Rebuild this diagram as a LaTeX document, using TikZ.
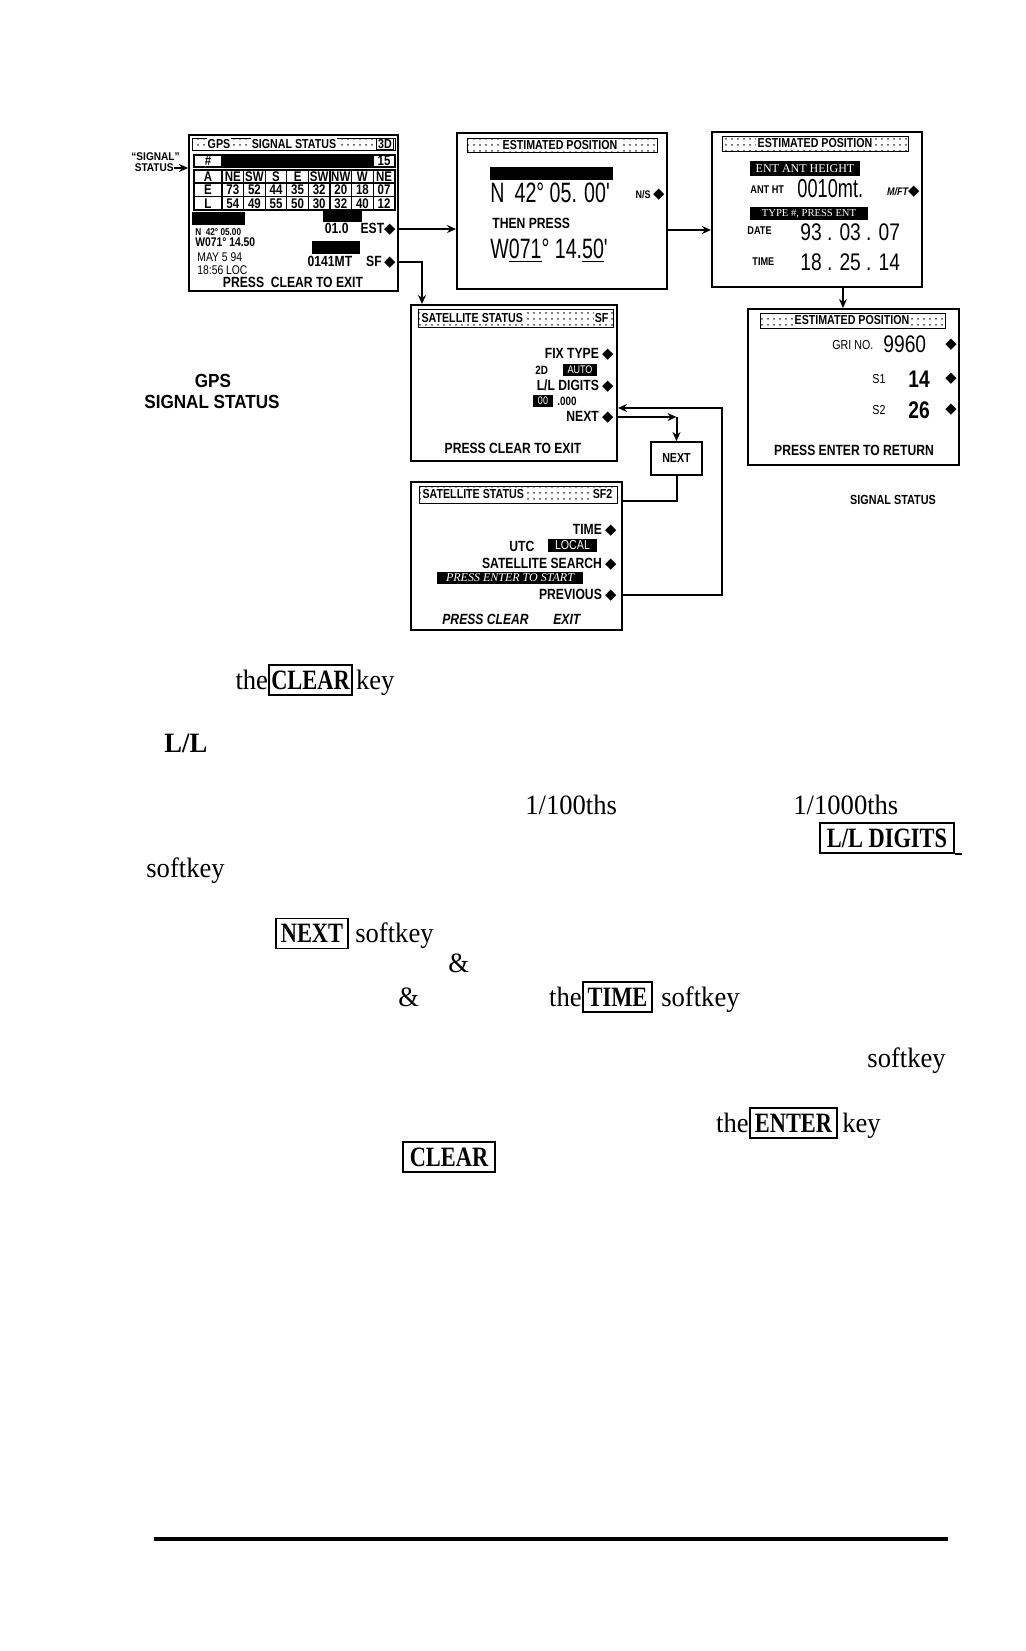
\documentclass[tikz,border=0pt]{standalone}
\usepackage{fontspec}
\setmainfont{Liberation Serif}
\newfontfamily\bodyf[FakeStretch=0.95]{Liberation Serif}
\newfontfamily\keyf[FakeStretch=0.8]{Liberation Serif}
\newfontfamily\scrf[FakeStretch=0.82]{Liberation Sans}
\newfontfamily\lcdf[FakeStretch=0.7]{Liberation Sans}
\newfontfamily\digf[FakeStretch=0.8]{Liberation Sans}
\newfontfamily\lblf[FakeStretch=0.9]{Liberation Sans}
\newfontfamily\symf{DejaVu Sans}
\usetikzlibrary{arrows.meta,positioning,calc,fit,patterns}
\newcommand\dia{{\symf ◆}}
\tikzset{lcd/.style={draw,line width=1pt,inner sep=0pt},tbar/.style={draw,line width=.5pt,pattern=dots,pattern color=black!75},ttl/.style={fill=white,inner sep=.6pt,font=\scrf\bfseries\fontsize{6.5}{7}\selectfont},st/.style={inner sep=0pt,font=\scrf\bfseries\fontsize{7.4}{8}\selectfont},sm/.style={inner sep=0pt,font=\scrf\bfseries\fontsize{5.6}{6}\selectfont},tag/.style={inner sep=0pt,font=\scrf\bfseries\fontsize{6.6}{7}\selectfont},rg/.style={inner sep=0pt,font=\scrf\fontsize{6.3}{7}\selectfont},cell/.style={inner sep=0pt,font=\scrf\bfseries\fontsize{7}{8}\selectfont},big/.style={inner sep=0pt,font=\lcdf\fontsize{14}{16}\selectfont},dig/.style={inner sep=0pt,font=\digf\fontsize{12}{14}\selectfont},inv/.style={fill=black,text=white,inner sep=0pt,font=\rmfamily\fontsize{6}{7}\selectfont},lbl/.style={inner sep=0pt,font=\lblf\bfseries\fontsize{9.5}{11}\selectfont},conn/.style={line width=1pt},tip/.style={-{Stealth[length=4.5pt,width=4pt]}},body/.style={inner sep=0pt,font=\bodyf\fontsize{14}{16}\selectfont},keybox/.style={draw,line width=.9pt,inner xsep=1pt,inner ysep=0pt,minimum height=15pt,font=\keyf\bfseries\fontsize{14}{16}\selectfont}}
\begin{document}
\begin{tikzpicture}[x=0.5pt,y=-0.5pt]
\useasboundingbox (0,0) rectangle (1025,1651);
% GPS signal status screen
\node[lcd,fit={(189,135) (398,291)}] (gps) {};
\draw[tbar] (192,138) rectangle (395,150);
\node[ttl] (gpsA) at (219,144) {GPS};
\node[ttl] (gpsB) at (294,144) {SIGNAL STATUS};
\node[ttl,draw,line width=.5pt] (gpsC) at (385,144) {3D};
\draw[line width=.6pt] (194,155) rectangle (395,167) (222,155) -- (222,167) (373,155) -- (373,167);
\fill (222,155) rectangle (373,167);
\node[cell] (hsh) at (208,161) {\#};
\node[cell] (nsat) at (384,161) {15};
\draw[line width=.6pt] (194,170) rectangle (395,210) (194,183) -- (395,183) (194,196.5) -- (395,196.5);
\foreach \nn in {0,...,7} \draw[line width=.6pt] (222+21.6*\nn,170) -- (222+21.6*\nn,210);
\foreach \rw/\yy in {A/176.5,E/189.8,L/203.3} \node[cell] (row\rw) at (208,\yy) {\rw};
\foreach \dd [count=\nn] in {NE,SW,S,E,SW,NW,W,NE} \node[cell] (az\nn) at (211.2+21.6*\nn,176.5) {\dd};
\foreach \dd [count=\nn] in {73,52,44,35,32,20,18,07} \node[cell] (el\nn) at (211.2+21.6*\nn,189.8) {\dd};
\foreach \dd [count=\nn] in {54,49,55,50,30,32,40,12} \node[cell] (lv\nn) at (211.2+21.6*\nn,203.3) {\dd};
\fill (192,212) rectangle (245,225);
\fill (323,210) rectangle (362,222);
\fill (312,241) rectangle (360,254);
\node[sm,anchor=west,font=\scrf\bfseries\fontsize{5}{6}\selectfont] (gpslat) at (195,232) {N\ \ 42° 05.00};
\node[st,anchor=west,font=\scrf\bfseries\fontsize{6.3}{7}\selectfont] (gpslon) at (195,242) {W071° 14.50};
\node[st,anchor=east] (gpsest) at (396,229) {01.0\hspace{6pt}EST\dia};
\node[rg,anchor=west] (gpsdate) at (197,257) {MAY 5 94};
\node[rg,anchor=west] (gpstime) at (197,270) {18:56 LOC};
\node[st,anchor=east] (gpssf) at (396,262) {0141MT\hspace{7pt}SF\,\dia};
\node[st] (gpsexit) at (293,282) {PRESS\ \ CLEAR TO EXIT};
\node[sm,anchor=east,font=\lblf\bfseries\fontsize{5.6}{6}\selectfont] (sigA) at (180,157) {“SIGNAL”};
\node[sm,anchor=east,font=\lblf\bfseries\fontsize{5.6}{6}\selectfont] (sigB) at (174,168) {STATUS};
\node[lbl] (capA) at (213,381) {GPS};
\node[lbl] (capB) at (212,402) {SIGNAL STATUS};
% estimated position, latitude / longitude
\node[lcd,fit={(457,133) (667,289)}] (estA) {};
\draw[tbar] (467,138) rectangle (657,152);
\node[ttl] (estAT) at (560,145) {ESTIMATED POSITION};
\fill (490,167) rectangle (613,180);
\node[big,anchor=west] (estAlat) at (490,193) {N\, 42° 05. 00'};
\node[st,anchor=east] (estAns) at (665,195) {{\fontsize{5.5}{6}\selectfont N/S}\,\dia};
\node[st,anchor=west] (estAthen) at (492,223) {THEN PRESS};
\node[big,anchor=west] (estAlon) at (490,251) {W\underline{071}° 14.\underline{50}'};
% estimated position, antenna height / date / time
\node[lcd,fit={(712,132) (922,287)}] (estB) {};
\draw[tbar] (722,136) rectangle (908,151);
\node[ttl] (estBT) at (815,143.5) {ESTIMATED POSITION};
\node[inv,minimum width=55pt,minimum height=7.5pt] (estBhd) at (805,168.5) {ENT ANT HEIGHT};
\node[sm,anchor=west] (estBant) at (750,190) {ANT HT};
\node[big,anchor=west,font=\lcdf\fontsize{13}{15}\selectfont] (estBht) at (797,189) {0010mt.};
\node[st,anchor=east] (estBmft) at (920,192) {{\fontsize{5.5}{6}\selectfont\itshape M/FT}\dia};
\node[inv,minimum width=59pt,minimum height=6.5pt,font=\rmfamily\fontsize{5.3}{6}\selectfont] (estBty) at (809,213.5) {TYPE \#, PRESS ENT};
\node[sm,anchor=west] (estBdl) at (747,231) {DATE};
\node[dig,anchor=west] (estBdate) at (800,232) {93 . 03 . 07};
\node[sm,anchor=west] (estBtl) at (752,262) {TIME};
\node[dig,anchor=west] (estBtime) at (800,262) {18 . 25 . 14};
% estimated position, GRI
\node[lcd,fit={(748,309) (959,465)}] (estC) {};
\draw[tbar] (760,313) rectangle (945,328);
\node[ttl] (estCT) at (852,320.5) {ESTIMATED POSITION};
\node[rg,anchor=west,font=\scrf\fontsize{6.5}{7}\selectfont] (estCgl) at (832,345) {GRI NO.};
\node[dig,anchor=west] (estCgri) at (883,344) {9960};
\node[rg,anchor=west,font=\scrf\fontsize{6.5}{7}\selectfont] (estCs1l) at (872,379) {S1};
\node[dig,anchor=west,font=\digf\bfseries\fontsize{12}{14}\selectfont] (estCs1) at (908,379) {14};
\node[rg,anchor=west,font=\scrf\fontsize{6.5}{7}\selectfont] (estCs2l) at (872,410) {S2};
\node[dig,anchor=west,font=\digf\bfseries\fontsize{12}{14}\selectfont] (estCs2) at (908,410) {26};
\foreach \yy [count=\nn] in {345,379,410} \node[st] (estCd\nn) at (951,\yy) {\dia};
\node[st] (estCexit) at (854,450) {PRESS ENTER TO RETURN};
\node[tag] (estCcap) at (893,500) {SIGNAL STATUS};
% satellite status SF
\node[lcd,fit={(411,305) (617,461)}] (satA) {};
\draw[tbar] (418,309) rectangle (613,327);
\node[ttl,anchor=west] (satAT) at (420,318) {SATELLITE\ STATUS};
\node[ttl,anchor=east] (satAsf) at (610,318) {SF};
\node[st,anchor=east] (satAfix) at (614,354) {FIX TYPE\ \dia};
\node[st,anchor=west] (satA2d) at (535,370) {{\fontsize{6}{7}\selectfont 2D}};
\node[inv,minimum width=17pt,minimum height=6pt,font=\scrf\fontsize{5.5}{6}\selectfont] (satAauto) at (580,370) {AUTO};
\node[st,anchor=east] (satAll) at (614,386) {L/L DIGITS\ \dia};
\node[inv,minimum width=10pt,minimum height=6pt,font=\scrf\fontsize{5.5}{6}\selectfont] (satAdd) at (543,401) {00};
\node[st,anchor=west] (satAdec) at (557,401) {{\fontsize{6}{7}\selectfont .000}};
\node[st,anchor=east] (satAnext) at (614,417) {NEXT\ \dia};
\node[st] (satAexit) at (513,448) {PRESS CLEAR TO EXIT};
% NEXT softkey
\node[draw,line width=1pt,minimum width=25.5pt,minimum height=16.5pt,st,font=\scrf\bfseries\fontsize{6.5}{7}\selectfont] (nextkey) at (676.5,458.5) {NEXT};
% satellite status SF2
\node[lcd,fit={(411,482) (622,630)}] (satB) {};
\draw[tbar] (419,486) rectangle (617,503);
\node[ttl,anchor=west] (satBT) at (421,494.5) {SATELLITE\ STATUS};
\node[ttl,anchor=east] (satBsf) at (614,494.5) {SF2};
\node[st,anchor=east] (satBtime) at (617,530) {TIME\ \dia};
\node[st,anchor=west] (satButc) at (509,546) {UTC};
\node[inv,minimum width=24.5pt,minimum height=6.5pt,font=\scrf\fontsize{6.5}{7}\selectfont] (satBloc) at (572.5,545.5) {LOCAL};
\node[st,anchor=east] (satBsrch) at (617,564) {SATELLITE SEARCH\ \dia};
\node[inv,minimum width=73pt,minimum height=6pt,font=\rmfamily\itshape\fontsize{6}{7}\selectfont] (satBstart) at (510,578) {PRESS ENTER TO START};
\node[st,anchor=east] (satBprev) at (617,595) {PREVIOUS\ \dia};
\node[st,anchor=west,font=\scrf\bfseries\itshape\fontsize{7.4}{8}\selectfont] (satBpc) at (442,619) {PRESS CLEAR};
\node[st,anchor=west,font=\scrf\bfseries\itshape\fontsize{7.4}{8}\selectfont] (satBex) at (553,619) {EXIT};
% connectors
\coordinate (ab) at (690,230);
\coordinate (bc) at (843,298);
\coordinate (ret) at (722,408);
\draw[conn,tip] (sigB.east) -- (gps.west |- sigB.east);
\draw[conn,tip] (gps.east |- gpsest) -- (estA.west |- gpsest);
\draw[conn,tip] (gps.east |- gpssf) -| ([xshift=6pt]satA.north west);
\draw[conn,tip] (estA.east |- ab) -- (estB.west |- ab);
\draw[conn,tip] (estB.south -| bc) -- (estC.north -| bc);
\draw[conn,tip] (satA.east |- satAnext) -- (nextkey.north |- satAnext);
\draw[conn,tip] (nextkey.north |- satAnext) -- (nextkey.north);
\draw[conn] (nextkey.south) |- ([yshift=-10pt]satB.north east);
\draw[conn,tip] (satB.east |- satBprev) -| (ret) -- (satA.east |- ret);
% text below the screens
\node[keybox,minimum width=40.5pt] (kclear) at (310.5,680) {CLEAR};
\node[body,anchor=base east] (kclearA) at (kclear.base west) {the};
\node[body,anchor=base west,xshift=1.5pt] (kclearB) at (kclear.base east) {key};
\node[body,anchor=base west,font=\bodyf\bfseries\fontsize{14}{16}\selectfont] (ll) at (164,752) {L/L};
\node[body,anchor=base west] (hund) at (525,814) {1/100ths};
\node[body,anchor=base west] (thou) at (793,814) {1/1000ths};
\node[keybox,minimum width=67pt] (klldig) at (887,838) {L/L DIGITS};
\draw[line width=.9pt] (klldig.south east) -- ++(3.5pt,0);
\node[body,anchor=base west] (sk1) at (146,877) {softkey};
\node[keybox,minimum width=36pt] (knext) at (312,933.5) {NEXT};
\node[body,anchor=base west,xshift=3pt] (sk2) at (knext.base east) {softkey};
\node[body,anchor=base west] (amp1) at (448,972) {\&};
\node[body,anchor=base west] (amp2) at (398,1006) {\&};
\node[keybox,minimum width=34.5pt] (ktime) at (617.5,997) {TIME};
\node[body,anchor=base east] (ktimeA) at (ktime.base west) {the};
\node[body,anchor=base west,xshift=4pt] (ktimeB) at (ktime.base east) {softkey};
\node[body,anchor=base west] (sk4) at (867,1067) {softkey};
\node[keybox,minimum width=43.5pt] (kenter) at (793.5,1123) {ENTER};
\node[body,anchor=base east] (kenterA) at (kenter.base west) {the};
\node[body,anchor=base west,xshift=2pt] (kenterB) at (kenter.base east) {key};
\node[keybox,minimum width=46pt] (kclr) at (449,1157) {CLEAR};
\draw[line width=2pt] (154,1539) -- (948,1539);
\end{tikzpicture}
\end{document}
